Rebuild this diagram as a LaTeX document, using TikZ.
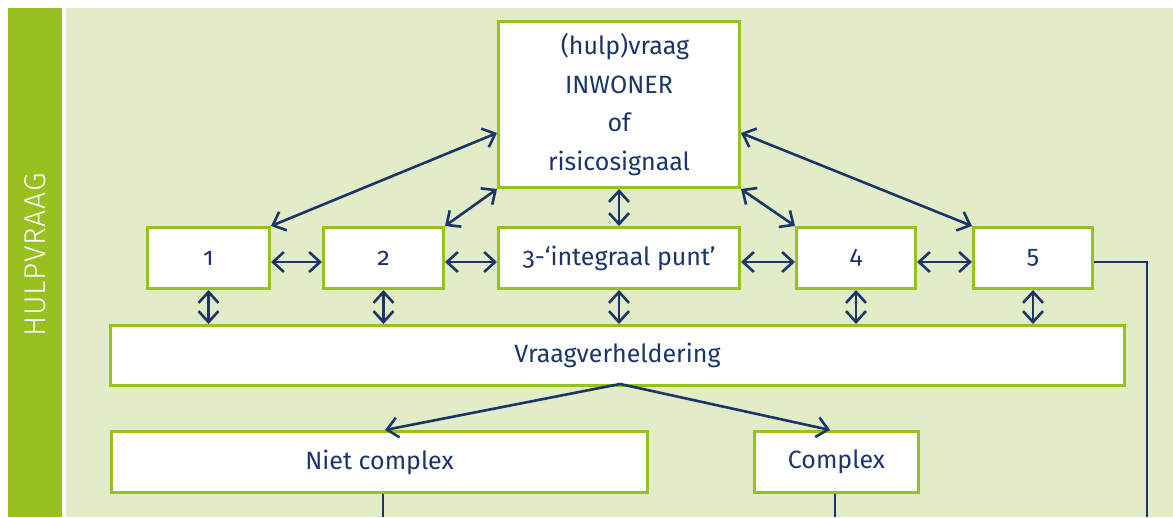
\documentclass[tikz,border=0pt]{standalone}
\usepackage{fontspec}
\setmainfont{Fira Sans}[Numbers=OldStyle]
\newfontfamily\barfont{Fira Sans Light}[LetterSpace=3]
\usetikzlibrary{arrows.meta}
\definecolor{navy}{HTML}{1B356B}
\definecolor{limegreen}{HTML}{97C11F}
\definecolor{palegreen}{HTML}{E2ECC7}
\begin{document}
\begin{tikzpicture}[x=1pt,y=-1pt,
  box/.style={draw=limegreen,line width=3pt,fill=white,text=navy,
    font=\fontsize{25}{38.5}\selectfont,inner sep=0pt,anchor=north west},
  tip/.style={Straight Barb[length=11pt,width=20pt,line width=2.6pt]},
  link/.style={draw=navy,line width=2.6pt},
  both/.style={link,{Straight Barb[length=11pt,width=20pt,line width=2.6pt]}-{Straight Barb[length=11pt,width=20pt,line width=2.6pt]}},
  one/.style={link,-{Straight Barb[length=11pt,width=20pt,line width=2.6pt]}}]
\useasboundingbox (0,0) rectangle (1173,517);
% side bar and panel
\fill[limegreen] (8,8) rectangle (62,517);
\fill[palegreen] (66,8) rectangle (1173,517);
\node[text=white,rotate=90,font=\barfont\fontsize{30}{32}\selectfont] (bar) at (35,255) {HULPVRAAG};
% boxes
\node[box,minimum width=241pt,minimum height=166pt,align=center] (top) at (497,20)
  {\hspace*{12pt}(hulp)vraag\\INWONER\\of\\risicosignaal};
\node[box,minimum width=122pt,minimum height=61pt] (b1) at (146,226) {1};
\node[box,minimum width=120pt,minimum height=61pt] (b2) at (322,226) {2};
\node[box,minimum width=241pt,minimum height=61pt] (b3) at (497,226) {3-‘integraal punt’};
\node[box,minimum width=119pt,minimum height=61pt] (b4) at (795,226) {4};
\node[box,minimum width=119pt,minimum height=61pt] (b5) at (972,226) {5};
\node[box,minimum width=1014pt,minimum height=60pt] (vh) at (109,324) {Vraagverheldering};
\node[box,minimum width=536pt,minimum height=61pt] (nc) at (110,430) {Niet complex};
\node[box,minimum width=164pt,minimum height=61pt] (cx) at (753,430) {\raisebox{5pt}{Complex}};
% top box to the five points
\draw[both] (top.west |- 0,133) -- (b1.north east);
\draw[both] (top.south west) -- (b2.north east);
\draw[both] (top.south) -- (b3.north);
\draw[both] (top.south east) -- (b4.north west);
\draw[both] (top.east |- 0,133) -- (b5.north west);
% between the points
\draw[both] (b1.east |- 0,262) -- (b2.west |- 0,262);
\draw[both] (b2.east |- 0,262) -- (b3.west |- 0,262);
\draw[both] (b3.east |- 0,262) -- (b4.west |- 0,262);
\draw[both] (b4.east |- 0,262) -- (b5.west |- 0,262);
% points to Vraagverheldering
\draw[both] (b1.south) -- (b1.south |- vh.north);
\draw[both] (b2.south) -- (b2.south |- vh.north);
\draw[both] (b3.south) -- (b3.south |- vh.north);
\draw[both] (b4.south) -- (b4.south |- vh.north);
\draw[both] (b5.south) -- (b5.south |- vh.north);
% split
\coordinate (split) at (620,384);
\draw[one] (split) -- (385,430);
\draw[one] (split) -- (830,430);
% outgoing lines
\coordinate (ncend) at (383,517);
\coordinate (cxend) at (835,517);
\coordinate (b5turn) at (1147,262);
\coordinate (b5end) at (1147,517);
\draw[link] (nc.south -| ncend) -- (ncend);
\draw[link] (cx.south -| cxend) -- (cxend);
\draw[link] (b5.east |- b5turn) -- (b5turn) -- (b5end);
\end{tikzpicture}
\end{document}
